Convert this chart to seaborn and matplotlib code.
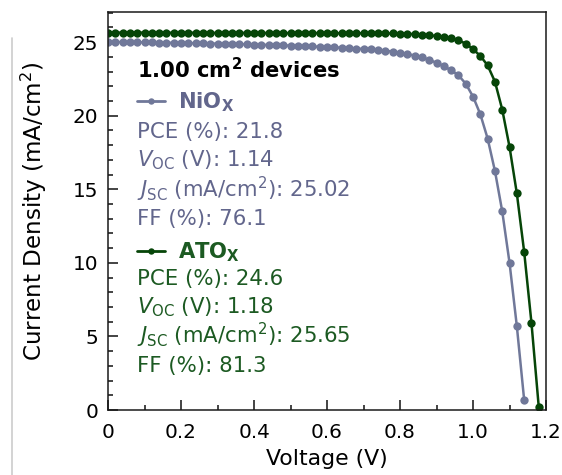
import numpy as np
import pandas as pd
import matplotlib
matplotlib.use("Agg")
import matplotlib.pyplot as plt
from matplotlib.lines import Line2D
from matplotlib.ticker import AutoMinorLocator
import seaborn as sns

# ---------------- data ----------------
voltage_nio = [0.00, 0.02, 0.04, 0.06, 0.08, 0.10, 0.12, 0.14, 0.16, 0.18,
               0.20, 0.22, 0.24, 0.26, 0.28, 0.30, 0.32, 0.34, 0.36, 0.38,
               0.40, 0.42, 0.44, 0.46, 0.48, 0.50, 0.52, 0.54, 0.56, 0.58,
               0.60, 0.62, 0.64, 0.66, 0.68, 0.70, 0.72, 0.74, 0.76, 0.78,
               0.80, 0.82, 0.84, 0.86, 0.88, 0.90, 0.92, 0.94, 0.96, 0.98,
               1.00, 1.02, 1.04, 1.06, 1.08, 1.10, 1.12, 1.14]
current_nio = [25.02, 25.01, 25.01, 25.00, 24.99, 24.99, 24.98, 24.97, 24.96, 24.96,
               24.95, 24.94, 24.93, 24.92, 24.91, 24.90, 24.89, 24.88, 24.87, 24.86,
               24.84, 24.83, 24.81, 24.80, 24.78, 24.77, 24.75, 24.73, 24.71, 24.69,
               24.67, 24.65, 24.62, 24.60, 24.57, 24.54, 24.51, 24.47, 24.42, 24.36,
               24.28, 24.20, 24.09, 23.96, 23.80, 23.60, 23.37, 23.09, 22.75, 22.18,
               21.30, 20.10, 18.45, 16.25, 13.50, 10.00, 5.70, 0.70]

voltage_ato = [0.00, 0.02, 0.04, 0.06, 0.08, 0.10, 0.12, 0.14, 0.16, 0.18,
               0.20, 0.22, 0.24, 0.26, 0.28, 0.30, 0.32, 0.34, 0.36, 0.38,
               0.40, 0.42, 0.44, 0.46, 0.48, 0.50, 0.52, 0.54, 0.56, 0.58,
               0.60, 0.62, 0.64, 0.66, 0.68, 0.70, 0.72, 0.74, 0.76, 0.78,
               0.80, 0.82, 0.84, 0.86, 0.88, 0.90, 0.92, 0.94, 0.96, 0.98,
               1.00, 1.02, 1.04, 1.06, 1.08, 1.10, 1.12, 1.14, 1.16, 1.18]
current_ato = [25.65, 25.65, 25.65, 25.65, 25.65, 25.65, 25.64, 25.64, 25.64, 25.64,
               25.64, 25.64, 25.64, 25.64, 25.63, 25.63, 25.63, 25.63, 25.63, 25.63,
               25.63, 25.63, 25.62, 25.62, 25.62, 25.62, 25.62, 25.62, 25.62, 25.62,
               25.61, 25.61, 25.61, 25.61, 25.61, 25.61, 25.60, 25.60, 25.60, 25.59,
               25.58, 25.57, 25.55, 25.52, 25.47, 25.42, 25.36, 25.27, 25.12, 24.91,
               24.52, 24.07, 23.42, 22.32, 20.42, 17.88, 14.72, 10.77, 5.94, 0.22]

devices = ["NiOx", "ATOx"]
x_ticks = [0.0, 0.2, 0.4, 0.6, 0.8, 1.0, 1.2]
x_tick_labels = ["0", "0.2", "0.4", "0.6", "0.8", "1.0", "1.2"]
y_ticks = [0, 5, 10, 15, 20, 25]
y_tick_labels = ["0", "5", "10", "15", "20", "25"]

nio_stats = ["PCE (%): 21.8",
             r"$V_{\mathrm{OC}}$ (V): 1.14",
             r"$J_{\mathrm{SC}}$ (mA/cm$^2$): 25.02",
             "FF (%): 76.1"]
ato_stats = ["PCE (%): 24.6",
             r"$V_{\mathrm{OC}}$ (V): 1.18",
             r"$J_{\mathrm{SC}}$ (mA/cm$^2$): 25.65",
             "FF (%): 81.3"]

# ---------------- styling ----------------
sns.set_style("ticks")
plt.rcParams["font.family"] = ["DejaVu Sans"]
plt.rcParams["mathtext.fontset"] = "dejavusans"
for k in ["text.color", "axes.labelcolor", "xtick.color", "ytick.color"]:
    plt.rcParams[k] = "black"

line_colors = {"NiOx": "#707899", "ATOx": "#064508"}
text_colors = {"NiOx": "#62668c", "ATOx": "#1c5a22"}

df = pd.concat([
    pd.DataFrame({"Voltage": voltage_nio, "Current": current_nio, "device": devices[0]}),
    pd.DataFrame({"Voltage": voltage_ato, "Current": current_ato, "device": devices[1]}),
], ignore_index=True)

fig = plt.figure(figsize=(5.62, 4.75), dpi=100)
ax = fig.add_axes([0.1922, 0.1368, 0.7794, 0.8379])

sns.lineplot(data=df, x="Voltage", y="Current", hue="device", palette=line_colors,
             hue_order=devices, marker="o", markersize=6.0, markeredgewidth=0,
             linewidth=1.8, legend=False, sort=False, ax=ax)

ax.set_xlim(0, 1.2)
ax.set_ylim(0, 27.05)
ax.set_xticks(x_ticks)
ax.set_xticklabels(x_tick_labels)
ax.set_yticks(y_ticks)
ax.set_yticklabels(y_tick_labels)
ax.xaxis.set_minor_locator(AutoMinorLocator(2))
ax.yaxis.set_minor_locator(AutoMinorLocator(5))
ax.tick_params(which="both", direction="in", top=False, right=False,
               width=1.1, color="#111111")
ax.tick_params(which="major", length=7.5, labelsize=14.4)
ax.tick_params(which="minor", length=3.8)
ax.tick_params(axis="x", pad=9.5)
ax.tick_params(axis="y", pad=7)
for s in ax.spines.values():
    s.set_linewidth(1.1)
    s.set_color("#1a1a1a")

ax.set_xlabel("Voltage (V)", fontsize=15.8, labelpad=5)
ax.set_ylabel("Current Density (mA/cm$^2$)", fontsize=16.6, labelpad=17)

# ---------------- annotation block ----------------
tx = 0.066
ax.text(tx, 0.834, "1.00 cm$^\\mathbf{2}$ devices", transform=ax.transAxes,
        fontsize=15.2, fontweight="bold", color="black", va="baseline", ha="left")

def legend_entry(y_base, name_txt, key):
    yl = y_base + 0.018
    ax.add_line(Line2D([0.066, 0.130], [yl, yl], transform=ax.transAxes,
                       color=line_colors[key], linewidth=2.0))
    ax.add_line(Line2D([0.098], [yl], transform=ax.transAxes, marker="o",
                       markersize=4.6, markeredgewidth=0, color=line_colors[key]))
    ax.text(0.160, y_base, name_txt, transform=ax.transAxes, fontsize=15.2,
            fontweight="bold", color=text_colors[key], va="baseline", ha="left")

legend_entry(0.759, r"NiO$_\mathbf{X}$", "NiOx")
for yb, s in zip([0.683, 0.611, 0.535, 0.465], nio_stats):
    ax.text(tx, yb, s, transform=ax.transAxes, fontsize=15.3,
            color=text_colors["NiOx"], va="baseline", ha="left")

legend_entry(0.382, r"ATO$_\mathbf{X}$", "ATOx")
for yb, s in zip([0.314, 0.244, 0.168, 0.0955], ato_stats):
    ax.text(tx, yb, s, transform=ax.transAxes, fontsize=15.3,
            color=text_colors["ATOx"], va="baseline", ha="left")

# faint vertical line at the far left of the picture
fig.add_artist(Line2D([12 / 562, 12 / 562], [0, (475 - 38) / 475],
                      transform=fig.transFigure, color="#cccccc", linewidth=1.2))

fig.savefig("out.png", dpi=100)
